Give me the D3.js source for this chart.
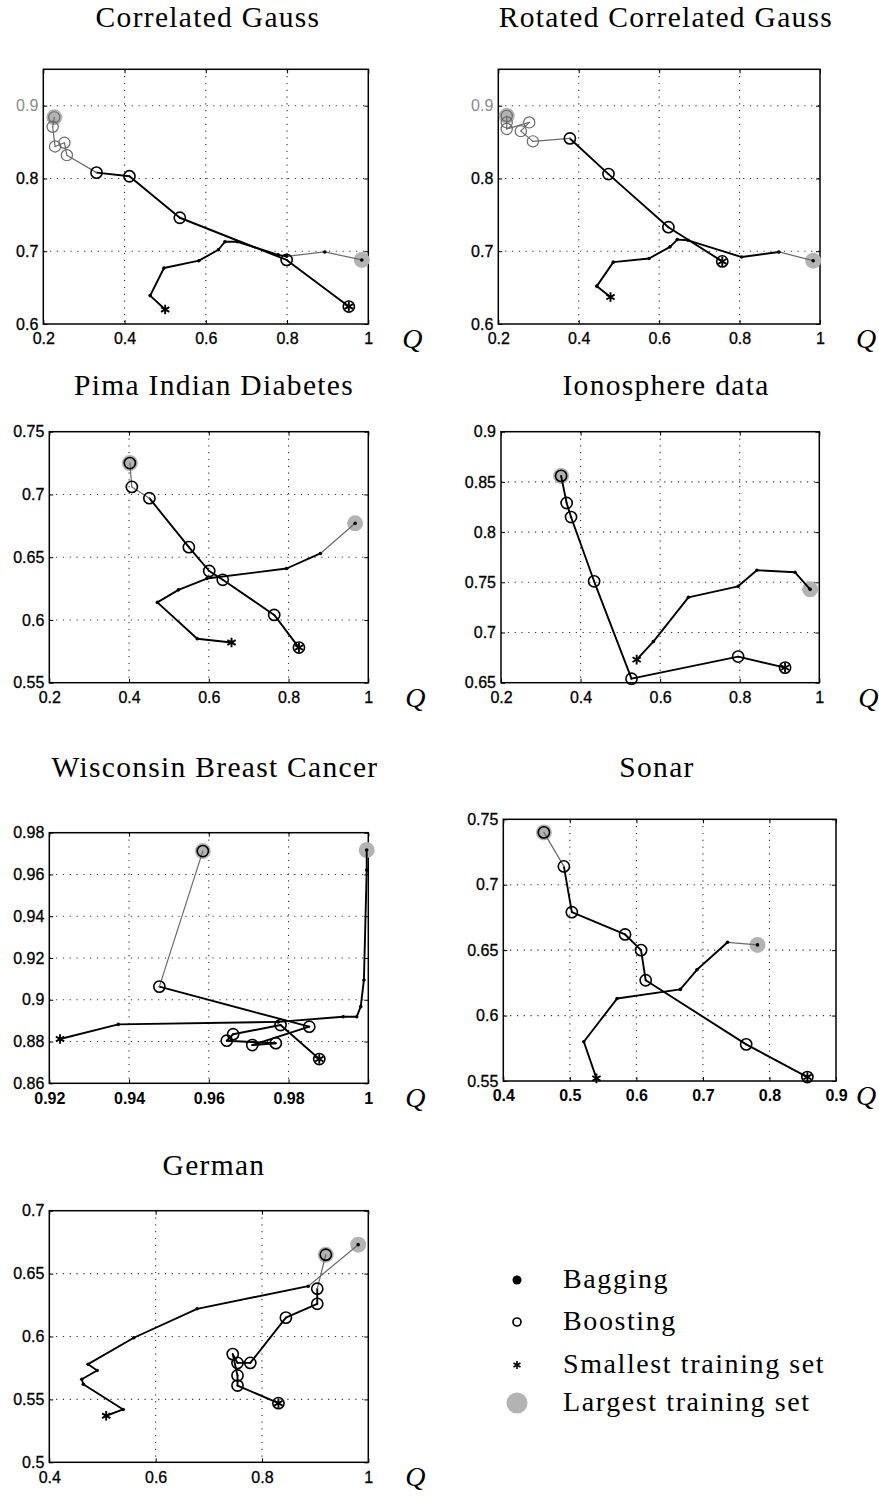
<!DOCTYPE html>
<html>
<head>
<meta charset="utf-8">
<script src="https://cdn.jsdelivr.net/npm/d3@7"></script>
<style>
  body { margin: 0; background: #fff; }
  svg { display: block; }
</style>
</head>
<body>
<svg id="fig" width="879" height="1498"></svg>
<script>
// ---- Data: each series runs from the smallest to the largest training set, [Q, accuracy] ----
const titles = [
  "Correlated Gauss", "Rotated Correlated Gauss", "Pima Indian Diabetes",
  "Ionosphere data", "Wisconsin Breast Cancer", "Sonar", "German"
];

const cgBagging   = [[0.500,0.620],[0.463,0.639],[0.497,0.677],[0.583,0.687],[0.631,0.702],[0.647,0.713],[0.678,0.713],[0.778,0.695],[0.799,0.693],[0.893,0.699],[0.984,0.688]];
const cgBoosting  = [[0.952,0.624],[0.799,0.688],[0.536,0.746],[0.412,0.803],[0.331,0.808],[0.258,0.832],[0.252,0.849],[0.229,0.844],[0.223,0.871],[0.227,0.884]];

const rcgBagging  = [[0.479,0.637],[0.445,0.652],[0.486,0.685],[0.575,0.690],[0.627,0.706],[0.645,0.716],[0.672,0.715],[0.805,0.692],[0.898,0.699],[0.983,0.687]];
const rcgBoosting = [[0.757,0.686],[0.623,0.733],[0.474,0.806],[0.378,0.855],[0.286,0.851],[0.256,0.865],[0.277,0.877],[0.221,0.868],[0.221,0.877],[0.221,0.886]];

const pimaBagging  = [[0.657,0.582],[0.571,0.585],[0.471,0.614],[0.524,0.624],[0.595,0.633],[0.795,0.641],[0.880,0.653],[0.967,0.677]];
const pimaBoosting = [[0.826,0.578],[0.764,0.604],[0.635,0.632],[0.601,0.639],[0.550,0.658],[0.451,0.697],[0.407,0.706],[0.402,0.725]];

const ionoBagging  = [[0.541,0.673],[0.583,0.691],[0.671,0.735],[0.796,0.746],[0.843,0.762],[0.939,0.760],[0.977,0.743]];
const ionoBoosting = [[0.914,0.665],[0.796,0.676],[0.528,0.654],[0.434,0.751],[0.376,0.815],[0.365,0.829],[0.351,0.856]];

const wbcBagging  = [[0.9227,0.8812],[0.9373,0.8882],[0.9774,0.8894],[0.9937,0.8919],[0.9971,0.8919],[0.9981,0.8967],[0.9989,0.9095],[0.9996,0.9621],[0.9996,0.9717]];
const wbcBoosting = [[0.9877,0.8716],[0.9780,0.8879],[0.9661,0.8835],[0.9645,0.8804],[0.9768,0.8792],[0.9709,0.8783],[0.9852,0.8871],[0.9476,0.9063],[0.9585,0.9712]];

const sonarBagging  = [[0.540,0.552],[0.521,0.580],[0.571,0.613],[0.666,0.620],[0.691,0.635],[0.737,0.656],[0.782,0.654]];
const sonarBoosting = [[0.857,0.553],[0.765,0.578],[0.614,0.627],[0.607,0.650],[0.583,0.662],[0.503,0.679],[0.491,0.714],[0.461,0.740]];

const germanBagging  = [[0.507,0.537],[0.539,0.542],[0.464,0.562],[0.461,0.566],[0.490,0.573],[0.473,0.578],[0.559,0.599],[0.678,0.622],[0.887,0.640],[0.981,0.673]];
const germanBoosting = [[0.831,0.547],[0.754,0.561],[0.754,0.569],[0.745,0.586],[0.754,0.579],[0.778,0.579],[0.845,0.615],[0.904,0.626],[0.904,0.638],[0.920,0.665]];

// Axis ranges and tick labels
const xDomains = [[0.2,1],[0.2,1],[0.2,1],[0.2,1],[0.92,1],[0.4,0.9],[0.4,1]];
const yDomains = [[0.6,0.95],[0.6,0.95],[0.55,0.75],[0.65,0.9],[0.86,0.98],[0.55,0.75],[0.5,0.7]];
const xTicks = [
  [0.2,0.4,0.6,0.8,1],[0.2,0.4,0.6,0.8,1],[0.2,0.4,0.6,0.8,1],[0.2,0.4,0.6,0.8,1],
  [0.92,0.94,0.96,0.98,1],[0.4,0.5,0.6,0.7,0.8,0.9],[0.4,0.6,0.8,1]
];
const yTicks = [
  [0.6,0.7,0.8,0.9],[0.6,0.7,0.8,0.9],[0.55,0.6,0.65,0.7,0.75],[0.65,0.7,0.75,0.8,0.85,0.9],
  [0.86,0.88,0.9,0.92,0.94,0.96,0.98],[0.55,0.6,0.65,0.7,0.75],[0.5,0.55,0.6,0.65,0.7]
];

const legendLabels = ["Bagging", "Boosting", "Smallest training set", "Largest training set"];

// ---- Layout and styling ----
const boxes = [  // [left, top, right, bottom] of each plotting area
  [43.3, 69.3, 368.3, 324], [498.3, 69.3, 820, 324],
  [49.3, 431.7, 368.3, 682.7], [501, 431.7, 819.3, 682.7],
  [49.3, 832.7, 368.3, 1083.3], [503.3, 819.3, 836, 1081],
  [49.3, 1210.7, 368.3, 1462.3]
];
const titlePos = [[208, 27], [666, 27], [214, 395], [666, 395], [215, 777], [657, 777], [214, 1175]];
const qOffset = [44, 46, 47, 49, 47, 30, 47];
// trailing segments (towards the largest set) printed lighter: [bagging, boosting]
const lightTail = [[2,5],[1,6],[1,2],[0,0],[0,1],[1,1],[1,1]];
const boldXLabels = [false, false, false, false, true, true, false];
const paleTopLabel = [true, true, false, false, false, false, false];

const seriesByPanel = [
  [cgBagging, cgBoosting], [rcgBagging, rcgBoosting], [pimaBagging, pimaBoosting],
  [ionoBagging, ionoBoosting], [wbcBagging, wbcBoosting], [sonarBagging, sonarBoosting],
  [germanBagging, germanBoosting]
];

const SANS = "'Liberation Sans', Arial, Helvetica, sans-serif";
const SERIF = "'Liberation Serif', 'Times New Roman', serif";
const GRAY = "#b3b3b3";
const LIGHT = "#6a6a6a";
const fmt = v => String(+v.toFixed(3));

const svg = d3.select("#fig");
const asterisk = d3.symbol().type(d3.symbolAsterisk);

titles.forEach((title, i) => {
  const [l, t, r, b] = boxes[i];
  const x = d3.scaleLinear().domain(xDomains[i]).range([l, r]);
  const y = d3.scaleLinear().domain(yDomains[i]).range([b, t]);
  const g = svg.append("g");

  // title
  g.append("text")
    .attr("x", titlePos[i][0]).attr("y", titlePos[i][1])
    .attr("text-anchor", "middle")
    .style("font-family", SERIF).style("font-size", "29.5px").style("letter-spacing", "1.3px")
    .text(title);

  // dotted grid
  const [x0, x1] = xDomains[i], [y0, y1] = yDomains[i];
  const grid = g.append("g").attr("stroke", "#333").attr("stroke-width", 1.1)
    .attr("stroke-dasharray", "1.2,5.6");
  grid.selectAll(".gx").data(xTicks[i].filter(v => v > x0 + 1e-9 && v < x1 - 1e-9)).join("line")
    .attr("x1", d => x(d)).attr("x2", d => x(d)).attr("y1", t).attr("y2", b);
  grid.selectAll(".gy").data(yTicks[i].filter(v => v > y0 + 1e-9 && v < y1 - 1e-9)).join("line")
    .attr("y1", d => y(d)).attr("y2", d => y(d)).attr("x1", l).attr("x2", r);

  // axes with inward ticks on all four sides
  const styleAxis = (sel, bold) => {
    sel.select(".domain").remove();
    sel.selectAll(".tick line").attr("stroke", "#000").attr("stroke-width", 1);
    sel.selectAll("text").style("font-family", SANS).style("font-size", "16px")
      .style("font-weight", bold ? "bold" : "normal")
      .attr("fill", "#000").attr("stroke", "#000").attr("stroke-width", bold ? 0 : 0.3);
  };
  g.append("g").attr("transform", `translate(0,${b})`)
    .call(d3.axisBottom(x).tickValues(xTicks[i]).tickSize(-4).tickPadding(9).tickFormat(fmt))
    .call(styleAxis, boldXLabels[i]);
  const yAxis = g.append("g").attr("transform", `translate(${l},0)`)
    .call(d3.axisLeft(y).tickValues(yTicks[i]).tickSize(-4).tickPadding(5).tickFormat(fmt))
    .call(styleAxis, false);
  if (paleTopLabel[i]) {
    yAxis.selectAll(".tick").filter(d => d === yTicks[i][yTicks[i].length - 1])
      .select("text").attr("fill", "#8a8a8a").attr("stroke", "none");
  }
  g.append("g").attr("transform", `translate(0,${t})`)
    .call(d3.axisTop(x).tickValues(xTicks[i]).tickSize(-4).tickFormat(""))
    .call(styleAxis, false);
  g.append("g").attr("transform", `translate(${r},0)`)
    .call(d3.axisRight(y).tickValues(yTicks[i]).tickSize(-4).tickFormat(""))
    .call(styleAxis, false);

  g.append("rect").attr("x", l).attr("y", t).attr("width", r - l).attr("height", b - t)
    .attr("fill", "none").attr("stroke", "#000").attr("stroke-width", 1.5);

  // Q axis label
  g.append("text")
    .attr("x", r + qOffset[i]).attr("y", b + 24)
    .attr("text-anchor", "middle")
    .style("font-family", SERIF).style("font-style", "italic").style("font-size", "28px")
    .text("Q");

  const [bag, boost] = seriesByPanel[i];
  const series = [bag, boost];

  // largest training set: grey disk underneath
  series.forEach(s => {
    const last = s[s.length - 1];
    g.append("circle").attr("cx", x(last[0])).attr("cy", y(last[1])).attr("r", 8).attr("fill", GRAY);
  });

  // trajectories, segment by segment so the tail can be lighter
  series.forEach((s, k) => {
    const firstLight = s.length - 1 - lightTail[i][k];
    const segs = d3.pairs(s).map((p, j) => ({ p, light: j >= firstLight }));
    g.selectAll(null).data(segs).join("line")
      .attr("x1", d => x(d.p[0][0])).attr("y1", d => y(d.p[0][1]))
      .attr("x2", d => x(d.p[1][0])).attr("y2", d => y(d.p[1][1]))
      .attr("stroke", d => d.light ? LIGHT : "#000")
      .attr("stroke-width", d => d.light ? 1.2 : 1.9)
      .attr("stroke-linecap", "round");
  });

  // bagging: small filled dots
  g.selectAll(null).data(bag).join("circle")
    .attr("cx", d => x(d[0])).attr("cy", d => y(d[1])).attr("r", 1.8).attr("fill", "#000");

  // boosting: open circles
  const lightFrom = boost.length - lightTail[i][1];
  g.selectAll(null).data(boost).join("circle")
    .attr("cx", d => x(d[0])).attr("cy", d => y(d[1])).attr("r", 5.6)
    .attr("fill", "none")
    .attr("stroke", (d, j) => j >= lightFrom && lightTail[i][1] > 2 ? LIGHT : "#000")
    .attr("stroke-width", (d, j) => j >= lightFrom && lightTail[i][1] > 2 ? 1.2 : 1.6);

  // smallest training set: asterisk
  series.forEach(s => {
    g.append("path").attr("d", asterisk.size(64)())
      .attr("transform", `translate(${x(s[0][0])},${y(s[0][1])})`)
      .attr("fill", "none").attr("stroke", "#000").attr("stroke-width", 1.9);
  });
});

// ---- Legend ----
const legend = svg.append("g");
const legendY = [1280, 1322, 1365, 1403];
const legendMarkX = 517, legendTextX = 563;
legend.append("circle").attr("cx", legendMarkX).attr("cy", legendY[0]).attr("r", 4.5).attr("fill", "#000");
legend.append("circle").attr("cx", legendMarkX).attr("cy", legendY[1]).attr("r", 4)
  .attr("fill", "none").attr("stroke", "#000").attr("stroke-width", 1.7);
legend.append("path").attr("d", asterisk.size(45)())
  .attr("transform", `translate(${legendMarkX},${legendY[2]})`)
  .attr("stroke", "#000").attr("stroke-width", 1.6);
legend.append("circle").attr("cx", legendMarkX).attr("cy", legendY[3]).attr("r", 10.5).attr("fill", GRAY);
legend.selectAll(null).data(legendLabels).join("text")
  .attr("x", legendTextX).attr("y", (d, k) => legendY[k] + 8)
  .style("font-family", SERIF).style("font-size", "28px").style("letter-spacing", "1.6px")
  .text(d => d);
</script>
</body>
</html>
